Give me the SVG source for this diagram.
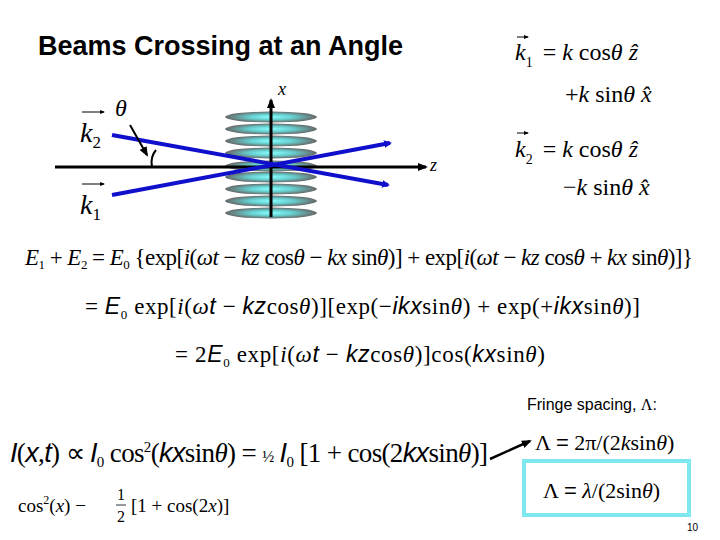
<svg xmlns="http://www.w3.org/2000/svg" width="720" height="540" viewBox="0 0 720 540">
<defs>
<marker id="ab" markerWidth="8" markerHeight="8" refX="6" refY="4" orient="auto" markerUnits="userSpaceOnUse"><path d="M0,0 L8,4 L0,8 Z" fill="#1010cc"/></marker>
<marker id="ak" markerWidth="10" markerHeight="8" refX="8" refY="4" orient="auto" markerUnits="userSpaceOnUse"><path d="M0,0 L10,4 L0,8 Z" fill="#000"/></marker>
<marker id="as" markerWidth="5" markerHeight="4" refX="4" refY="2" orient="auto" markerUnits="userSpaceOnUse"><path d="M0,0 L5,2 L0,4 Z" fill="#000"/></marker>
<radialGradient id="g"><stop offset="0" stop-color="#8ff"/><stop offset="0.5" stop-color="#6cc"/><stop offset="1" stop-color="#666"/></radialGradient>
</defs>
<style>
.s{font-family:"Liberation Serif",serif;fill:#000}
.a{font-family:"Liberation Sans",Arial,sans-serif;fill:#000}
.i{font-style:italic}
.e{fill:url(#g)}
</style>
<rect width="720" height="540" fill="#fff"/>
<text class="a" x="38" y="55" font-size="27" font-weight="bold" fill="#1a1a3a">Beams Crossing at an Angle</text>
<g id="fringes">
<ellipse class="e" cx="271" cy="117" rx="46" ry="5.5"/>
<ellipse class="e" cx="271" cy="129" rx="46" ry="5.5"/>
<ellipse class="e" cx="271" cy="141" rx="46" ry="5.5"/>
<ellipse class="e" cx="271" cy="153" rx="46" ry="5.5"/>
<ellipse class="e" cx="271" cy="166" rx="46" ry="5.5"/>
<ellipse class="e" cx="271" cy="177" rx="46" ry="5.5"/>
<ellipse class="e" cx="271" cy="189" rx="46" ry="5.5"/>
<ellipse class="e" cx="271" cy="201" rx="46" ry="5.5"/>
<ellipse class="e" cx="271" cy="213" rx="46" ry="5.5"/>
</g>
<g id="connectors">
<line x1="55" y1="167" x2="426" y2="167" stroke="#000" stroke-width="3" marker-end="url(#ak)"/>
<line x1="271" y1="217" x2="271" y2="100" stroke="#000" stroke-width="3" marker-end="url(#ak)"/>
<line x1="112" y1="135" x2="388" y2="185" stroke="#1010cc" stroke-width="4" marker-end="url(#ab)"/>
<line x1="112" y1="195" x2="390" y2="143" stroke="#1010cc" stroke-width="4" marker-end="url(#ab)"/>
<line x1="130" y1="125" x2="147" y2="155" stroke="#000" stroke-width="2" marker-end="url(#ak)"/>
<path d="M152,167 Q150,157 156,150" fill="none" stroke="#000" stroke-width="2"/>
<line x1="490" y1="459" x2="530" y2="441" stroke="#000" stroke-width="2.5" marker-end="url(#ak)"/>
</g>
<g id="labels">
<line x1="82" y1="112" x2="104" y2="112" stroke="#000" marker-end="url(#as)"/>
<text class="s i" x="80" y="142" font-size="28">k<tspan font-size="17" font-style="normal" dy="6">2</tspan></text>
<text class="s i" x="115" y="116" font-size="24">θ</text>
<line x1="82" y1="184" x2="104" y2="184" stroke="#000" marker-end="url(#as)"/>
<text class="s i" x="80" y="214" font-size="28">k<tspan font-size="17" font-style="normal" dy="6">1</tspan></text>
<text class="s i" x="278" y="95" font-size="18">x</text>
<text class="s i" x="430" y="171" font-size="18">z</text>
</g>
<g id="vectors" font-size="24">
<line x1="517" y1="37" x2="528" y2="37" stroke="#000" marker-end="url(#as)"/>
<text class="s" x="515" y="60"><tspan class="i">k</tspan><tspan font-size="14" dy="7">1</tspan><tspan dy="-7" dx="10">=  </tspan><tspan class="i">k</tspan> cos<tspan class="i">θ</tspan> <tspan class="i">ẑ</tspan></text>
<text class="s" x="565" y="102">+<tspan class="i">k</tspan> sin<tspan class="i">θ</tspan> <tspan class="i">x̂</tspan></text>
<line x1="517" y1="133" x2="528" y2="133" stroke="#000" marker-end="url(#as)"/>
<text class="s" x="515" y="157"><tspan class="i">k</tspan><tspan font-size="14" dy="7">2</tspan><tspan dy="-7" dx="10">=  </tspan><tspan class="i">k</tspan> cos<tspan class="i">θ</tspan> <tspan class="i">ẑ</tspan></text>
<text class="s" x="563" y="195">−<tspan class="i">k</tspan> sin<tspan class="i">θ</tspan> <tspan class="i">x̂</tspan></text>
</g>
<text class="s" x="25" y="265" font-size="23" textLength="668"><tspan class="i">E</tspan><tspan font-size="13" dy="4">1</tspan><tspan dy="-4"> + </tspan><tspan class="i">E</tspan><tspan font-size="13" dy="4">2</tspan><tspan dy="-4"> = </tspan><tspan class="i">E</tspan><tspan font-size="13" dy="4">0</tspan><tspan dy="-4"> {exp[</tspan><tspan class="i">i</tspan>(<tspan class="i">ωt</tspan> − <tspan class="i">kz</tspan> cos<tspan class="i">θ</tspan> − <tspan class="i">kx</tspan> sin<tspan class="i">θ</tspan>)] + exp[<tspan class="i">i</tspan>(<tspan class="i">ωt</tspan> − <tspan class="i">kz</tspan> cos<tspan class="i">θ</tspan> + <tspan class="i">kx</tspan> sin<tspan class="i">θ</tspan>)]}</text>
<text class="s" x="85" y="314" font-size="23" textLength="555">= <tspan class="a i">E</tspan><tspan font-size="13" dy="5">0</tspan><tspan dy="-5"> exp[</tspan><tspan class="i">i</tspan>(<tspan class="i">ω</tspan><tspan class="a i">t</tspan> − <tspan class="a i">kz</tspan>cos<tspan class="i">θ</tspan>)][exp(−<tspan class="a i">ikx</tspan>sin<tspan class="i">θ</tspan>) + exp(+<tspan class="a i">ikx</tspan>sin<tspan class="i">θ</tspan>)]</text>
<text class="s" x="175" y="362" font-size="23" textLength="370">= 2<tspan class="a i">E</tspan><tspan font-size="13" dy="5">0</tspan><tspan dy="-5"> exp[</tspan><tspan class="i">i</tspan>(<tspan class="i">ω</tspan><tspan class="a i">t</tspan> − <tspan class="a i">kz</tspan>cos<tspan class="i">θ</tspan>)]cos(<tspan class="a i">kx</tspan>sin<tspan class="i">θ</tspan>)</text>
<text class="a" x="527" y="410" font-size="16">Fringe spacing, <tspan class="s">Λ</tspan>:</text>
<text class="s" x="10" y="462" font-size="27" textLength="478"><tspan class="a i">I</tspan>(<tspan class="a i">x</tspan>,<tspan class="a i">t</tspan>) ∝ <tspan class="a i">I</tspan><tspan font-size="15" dy="5">0</tspan><tspan dy="-5"> cos</tspan><tspan font-size="15" dy="-10">2</tspan><tspan dy="10">(</tspan><tspan class="a i">kx</tspan>sin<tspan class="i">θ</tspan>) = <tspan font-size="16">½</tspan> <tspan class="a i">I</tspan><tspan font-size="15" dy="5">0</tspan><tspan dy="-5"> [1 + cos(2</tspan><tspan class="a i">kx</tspan>sin<tspan class="i">θ</tspan>)]</text>
<g id="identity" class="s" fill="#333">
<text class="s" x="18" y="512" font-size="19" fill="#333">cos<tspan font-size="12" dy="-8">2</tspan><tspan dy="8">(</tspan><tspan class="i">x</tspan>)  −</text>
<text class="s" x="121" y="500" font-size="16" fill="#333" text-anchor="middle">1</text>
<line x1="116" y1="505" x2="126" y2="505" stroke="#333"/>
<text class="s" x="121" y="522" font-size="16" fill="#333" text-anchor="middle">2</text>
<text class="s" x="131" y="512" font-size="19" fill="#333">[1 + cos(2<tspan class="i">x</tspan>)]</text>
</g>
<text class="s" x="535" y="450" font-size="22">Λ <tspan class="a">=</tspan> 2π/(2<tspan class="i">k</tspan>sin<tspan class="i">θ</tspan>)</text>
<rect x="524" y="461" width="165" height="54" fill="none" stroke="#7ee8ee" stroke-width="4"/>
<text class="s" x="543" y="498" font-size="22">Λ <tspan class="a">=</tspan> <tspan class="i">λ</tspan>/(2sin<tspan class="i">θ</tspan>)</text>
<text class="a" x="687" y="531" font-size="10">10</text>
</svg>
